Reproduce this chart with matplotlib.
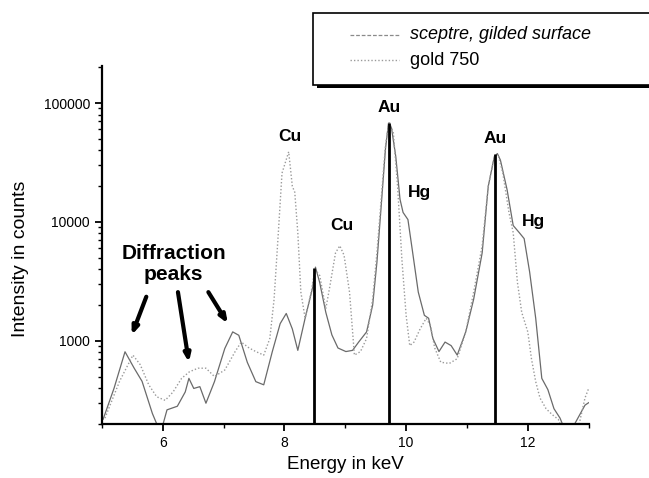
import matplotlib
matplotlib.use("Agg")
import matplotlib.pyplot as plt
from matplotlib.patches import Rectangle
from matplotlib.lines import Line2D
from matplotlib.ticker import LogLocator, FixedLocator, NullFormatter

plt.rcParams['font.family'] = ['Liberation Sans', 'DejaVu Sans']

# ---- data ----
sceptre_E = [5.02, 5.20, 5.38, 5.53, 5.66, 5.83, 5.92, 6.00, 6.07, 6.24, 6.37, 6.43, 6.51, 6.61,
             6.71, 6.85, 7.02, 7.15, 7.25, 7.39, 7.53, 7.66, 7.80, 7.93, 8.03, 8.13, 8.22, 8.34,
             8.46, 8.51, 8.58, 8.68, 8.78, 8.88, 9.01, 9.12, 9.22, 9.35, 9.45, 9.52, 9.59, 9.66,
             9.71, 9.76, 9.83, 9.90, 9.95, 10.03, 10.10, 10.20, 10.30, 10.37, 10.44, 10.54, 10.64,
             10.74, 10.84, 10.98, 11.11, 11.25, 11.35, 11.45, 11.50, 11.55, 11.66, 11.76, 11.86,
             11.94, 12.03, 12.13, 12.23, 12.33, 12.43, 12.53, 12.65, 12.77, 12.94, 13.0]
sceptre_I = [219, 400, 810, 590, 457, 245, 190, 195, 263, 282, 372, 484, 398, 412,
             299, 454, 863, 1190, 1114, 660, 454, 427, 809, 1396, 1700, 1259, 832, 1549,
             2754, 4169, 3090, 1738, 1122, 871, 813, 832, 977, 1189, 1995, 4571, 13490, 40740,
             67600, 61660, 35480, 15490, 12020, 10470, 5890, 2570, 1640, 1549, 1047, 813, 977,
             912, 759, 1189, 2239, 5495, 19950, 35480, 37580, 33110, 18620, 9333, 8128,
             7244, 3802, 1549, 484, 389, 269, 224, 158, 200, 288, 302]

gold_E = [5.05, 5.29, 5.51, 5.63, 5.77, 5.90, 6.04, 6.17, 6.31, 6.44, 6.58, 6.71, 6.85, 7.02,
          7.19, 7.29, 7.42, 7.53, 7.66, 7.76, 7.83, 7.90, 7.96, 8.07, 8.13, 8.17, 8.22, 8.27,
          8.34, 8.44, 8.50, 8.58, 8.68, 8.74, 8.84, 8.91, 8.98, 9.07, 9.15, 9.25, 9.35, 9.45,
          9.52, 9.59, 9.66, 9.72, 9.79, 9.86, 9.93, 10.00, 10.06, 10.13, 10.23, 10.33, 10.40,
          10.47, 10.57, 10.71, 10.84, 10.98, 11.11, 11.25, 11.35, 11.45, 11.52, 11.59, 11.69,
          11.76, 11.83, 11.90, 12.00, 12.06, 12.13, 12.20, 12.30, 12.40, 12.50, 12.62, 12.80,
          12.94, 13.0]
gold_I = [224, 457, 759, 631, 427, 339, 316, 372, 484, 550, 589, 589, 501, 569,
          813, 977, 871, 813, 759, 1047, 2239, 8128, 25700, 38900, 19950, 17780, 8128, 2570,
          1549, 2570, 3981, 3548, 1862, 2754, 5495, 6310, 5248, 2570, 759, 813, 1047, 2239,
          5495, 15490, 43650, 70000, 56230, 19950, 4898, 1641, 912, 977, 1259, 1549, 1349,
          871, 661, 646, 708, 1189, 2570, 6310, 19950, 35480, 35480, 25700, 12020,
          8128, 3090, 1738, 1189, 708, 454, 331, 269, 240, 219, 158, 158,
          331, 398]

au_line_E = [8.494, 9.713, 11.46]
au_line_top = [4100, 68000, 37500]

peak_labels = ['Cu', 'Cu', 'Au', 'Hg', 'Au', 'Hg']
peak_label_E = [8.09, 8.95, 9.72, 10.22, 11.47, 12.10]
peak_label_I = [52000, 9400, 91000, 17700, 50000, 10100]

diff_text = 'Diffraction\npeaks'
diff_text_pos = (6.18, 4400)
arrow_from_E = [5.73, 6.25, 6.75]
arrow_from_I = [2350, 2570, 2570]
arrow_to_E = [5.49, 6.43, 7.07]
arrow_to_I = [1120, 660, 1400]

x_ticks = [6, 8, 10, 12]
y_ticks = [1000, 10000, 100000]
y_ticklabels = ['1000', '10000', '100000']

legend_labels = ['sceptre, gilded surface', 'gold 750']

# ---- figure ----
fig = plt.figure(figsize=(6.49, 4.78), dpi=100)
ax = fig.add_axes([0.157, 0.113, 0.750, 0.749])

ax.plot(sceptre_E, sceptre_I, color='#6a6a6a', lw=0.9, ls='-')
ax.plot(gold_E, gold_I, color='#9a9a9a', lw=1.0, ls=(0, (1, 1.5)))
ax.vlines(au_line_E, 200, au_line_top, color='black', lw=2.0)

ax.set_yscale('log')
ax.set_xlim(5, 13)
ax.set_ylim(200, 205000)

for lab, e, i in zip(peak_labels, peak_label_E, peak_label_I):
    ax.text(e, i, lab, fontsize=12.5, fontweight='bold', ha='center', va='center')

ax.text(diff_text_pos[0], diff_text_pos[1], diff_text, fontsize=15, fontweight='bold',
        ha='center', va='center', linespacing=1.15)
for e0, i0, e1, i1 in zip(arrow_from_E, arrow_from_I, arrow_to_E, arrow_to_I):
    ax.annotate('', xy=(e1, i1), xytext=(e0, i0),
                arrowprops=dict(arrowstyle='-|>,head_length=0.45,head_width=0.18',
                                color='black', lw=3.0, shrinkA=0, shrinkB=0))

for s in ['top', 'right']:
    ax.spines[s].set_visible(False)
for s in ['left', 'bottom']:
    ax.spines[s].set_linewidth(1.6)

ax.xaxis.set_major_locator(FixedLocator(x_ticks))
ax.xaxis.set_minor_locator(FixedLocator([5, 7, 9, 11, 13]))
ax.yaxis.set_major_locator(FixedLocator(y_ticks))
ax.set_yticklabels(y_ticklabels)
ax.yaxis.set_minor_locator(LogLocator(base=10, subs=range(2, 10), numticks=20))
ax.yaxis.set_minor_formatter(NullFormatter())
ax.tick_params(axis='both', which='major', direction='out', length=5, width=1.3,
               labelsize=10)
ax.tick_params(axis='both', which='minor', direction='out', length=3, width=1.0)

ax.set_xlabel('Energy in keV', fontsize=13.5, va='center')
ax.xaxis.set_label_coords(0.5, -0.112)
ax.set_ylabel('Intensity in counts', fontsize=14)
ax.yaxis.set_label_coords(-0.150, 0.46)

# legend box with shadow, extending past right edge
shadow = Rectangle((0.488, 0.815), 0.55, 0.157, transform=fig.transFigure,
                   facecolor='black', edgecolor='none', clip_on=False, zorder=5)
box = Rectangle((0.483, 0.822), 0.55, 0.150, transform=fig.transFigure,
                facecolor='white', edgecolor='black', lw=1.2, clip_on=False, zorder=6)
fig.add_artist(shadow)
fig.add_artist(box)
fig.add_artist(Line2D([0.539, 0.615], [0.927, 0.927], transform=fig.transFigure,
                      color='#8a8a8a', lw=0.9, ls=(0, (3, 1.5)), zorder=7))
fig.add_artist(Line2D([0.539, 0.615], [0.874, 0.874], transform=fig.transFigure,
                      color='#9a9a9a', lw=1.0, ls=(0, (1, 1.5)), zorder=7))
fig.text(0.631, 0.927, legend_labels[0], fontsize=13, style='italic', va='center',
         ha='left', zorder=8)
fig.text(0.631, 0.874, legend_labels[1], fontsize=13, va='center', ha='left', zorder=8)

fig.savefig('out.png', dpi=100)
